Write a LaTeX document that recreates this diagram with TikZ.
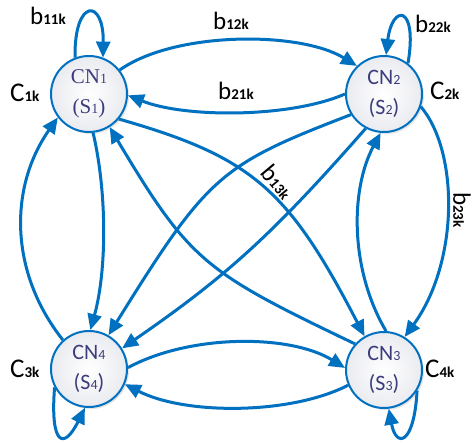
\documentclass[tikz,border=0pt]{standalone}
\usepackage{fontspec}
\newfontfamily\calfont{Carlito}
\newfontfamily\cnseriffont{Liberation Serif}
\usetikzlibrary{arrows.meta,shadows}
\definecolor{lineblue}{RGB}{0,112,192}
\definecolor{cntext}{RGB}{60,60,125}
\newcommand\mylab[2]{{\fontsize{25}{25}\selectfont #1}{\fontsize{15}{15}\selectfont\bfseries #2}}
\newcommand\mylabc[2]{{\fontsize{27}{27}\selectfont #1}{\fontsize{15}{15}\selectfont\bfseries #2}}
\newcommand\smalldig[1]{{\fontsize{14}{14}\selectfont #1}}
\begin{document}
\begin{tikzpicture}[x=1pt,y=1pt,
  cn/.style={circle, draw=lineblue, line width=2pt, minimum size=76pt, inner sep=0pt,
    shade, inner color=white, outer color={rgb,255:red,234;green,235;blue,240},
    drop shadow={shadow xshift=2pt,shadow yshift=-2pt,opacity=0.2},
    text=cntext, align=center},
  sansnode/.style={font=\calfont\fontsize{22}{30}\selectfont},
  serifnode/.style={font=\cnseriffont\fontsize{21}{30}\selectfont},
  edge/.style={draw=lineblue, line width=3pt, -{Triangle[length=16pt,width=14pt]}},
  lbl/.style={anchor=base west, inner sep=0pt, font=\calfont, text=black}]
\fill[white] (0,0) rectangle (474,442);
% nodes
\node[cn, serifnode] (cn1) at (89,348) {CN\smalldig{1}\\(S\smalldig{1})};
\node[cn, sansnode] (cn2) at (384,348) {CN\smalldig{2}\\(S\smalldig{2})};
\node[cn, sansnode] (cn4) at (89,73) {CN\smalldig{4}\\(S\smalldig{4})};
\node[cn, sansnode] (cn3) at (384,72) {CN\smalldig{3}\\(S\smalldig{3})};
% horizontal edges
\draw[edge] (cn1.38) .. controls (175,411) and (300,411) .. (cn2.134);
\draw[edge] (cn2.180) .. controls (290,324) and (185,324) .. (cn1.358);
\draw[edge] (cn4.2) .. controls (190,108) and (290,108) .. (cn3.177);
\draw[edge] (cn3.203) .. controls (290,27) and (185,27) .. (cn4.337);
% vertical edges
\draw[edge] (cn4.132) .. controls (9,170) and (9,255) .. (cn1.217);
\draw[edge] (cn1.276) .. controls (107,250) and (107,172) .. (cn4.88);
\draw[edge] (cn3.87) .. controls (350,172) and (350,252) .. (cn2.265);
\draw[edge] (cn2.341) .. controls (459,290) and (459,180) .. (cn3.58);
% diagonals
\draw[edge] (cn1.320) .. controls (252,285) and (288,253) .. (cn3.120);
\draw[edge] (cn3.138) .. controls (205,170) and (190,180) .. (cn1.302);
\draw[edge] (cn2.212) .. controls (220,277) and (208,267) .. (cn4.60);
\draw[edge] (cn2.242) .. controls (273,208) and (227,166) .. (cn4.32);
% self loops
\draw[edge] (cn1.111) .. controls (74,444) and (104,444) .. (cn1.69);
\draw[edge] (cn2.52) .. controls (418,438) and (392,438) .. (cn2.87);
\draw[edge] (cn4.208) .. controls (50,-4) and (64,-8) .. (cn4.264);
\draw[edge] (cn3.328) .. controls (414,-4) and (396,-6) .. (cn3.277);
% labels
\node[lbl] (lb11) at (30,417) {\mylab{b}{11k}};
\node[lbl] (lb12) at (213,412) {\mylab{b}{12k}};
\node[lbl] (lb21) at (218,342) {\mylab{b}{21k}};
\node[lbl] (lb22) at (415,409) {\mylab{b}{22k}};
\node[lbl] (lc1) at (10,340) {\mylabc{C}{1k}};
\node[lbl] (lc2) at (430,342) {\mylabc{C}{2k}};
\node[lbl] (lc3) at (10,64) {\mylabc{C}{3k}};
\node[lbl] (lc4) at (425,64) {\mylabc{C}{4k}};
\node[inner sep=0pt, font=\calfont, rotate=-50] (lb13) at (278,260) {\mylab{b}{13k}};
\node[inner sep=0pt, font=\calfont, rotate=-90] (lb23) at (462,232) {\mylab{b}{23k}};
\pgfresetboundingbox
\useasboundingbox (0,0) rectangle (474,442);
\end{tikzpicture}
\end{document}
